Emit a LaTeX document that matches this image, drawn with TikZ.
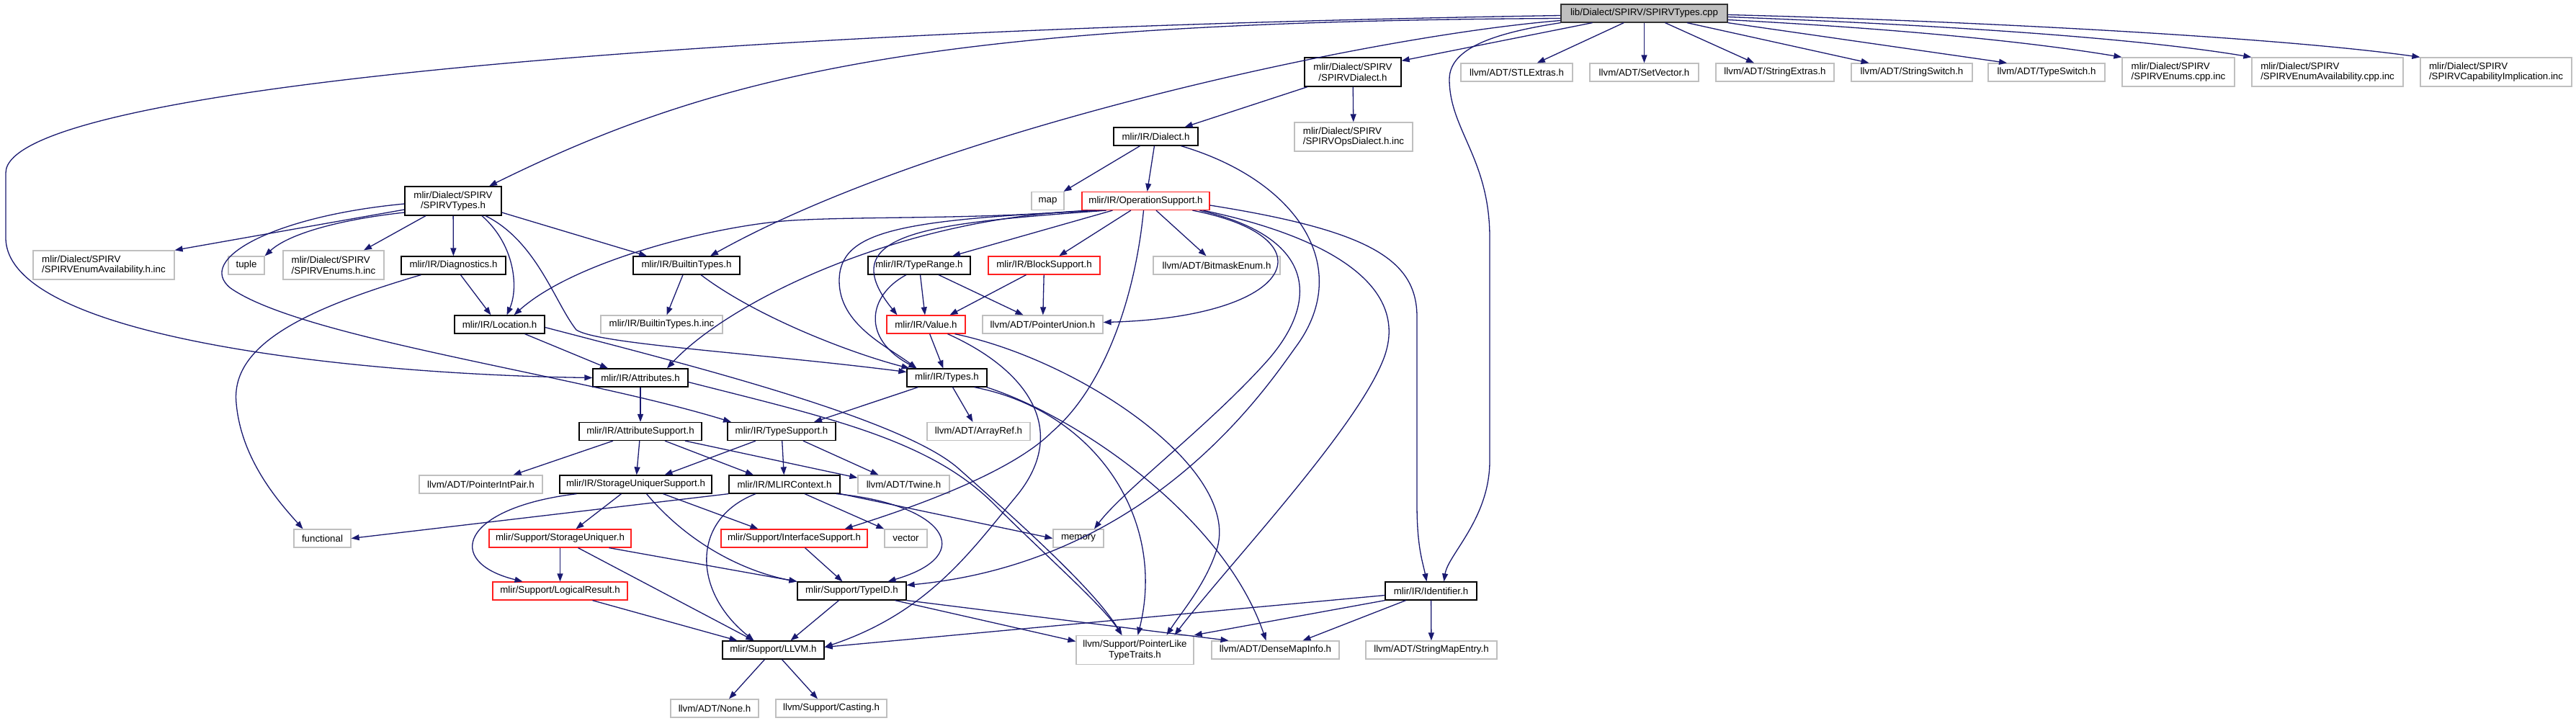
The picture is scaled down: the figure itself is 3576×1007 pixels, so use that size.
\documentclass[tikz,border=0pt]{standalone}
\usepackage{fontspec}
\setmainfont{Liberation Sans}
\usetikzlibrary{arrows.meta}
\definecolor{edgeblue}{HTML}{191970}
\definecolor{extgray}{HTML}{BFBFBF}
\definecolor{rootgray}{HTML}{BFBFBF}
\definecolor{truncred}{HTML}{FF2020}

\begin{document}
\begin{tikzpicture}[
  x=1pt, y=-1pt,
  filebox/.style={rectangle, inner sep=0pt, minimum height=25pt, line width=1.25pt,
                  align=center, font=\fontsize{13.3}{14.5}\selectfont},
  doc/.style={filebox, draw=black, fill=white},
  ext/.style={filebox, draw=extgray, fill=white},
  trunc/.style={filebox, draw=truncred, fill=white},
  rootfile/.style={filebox, draw=black!80, fill=rootgray},
  inc/.style={draw=edgeblue, line width=1.3pt, -{Triangle[length=11pt, width=8pt]}}
]
  \path[fill=white, use as bounding box] (0,0) rectangle (3576,1007);

  % files
  \node[rootfile, minimum width=231pt] (root) at (2282.5,18.5) {lib/Dialect/SPIRV/SPIRVTypes.cpp};
  \node[doc, minimum width=134pt, minimum height=40pt] (spvdialect) at (1878,100) {mlir/Dialect/SPIRV\\/SPIRVDialect.h};
  \node[ext, minimum width=155pt] (stlextras) at (2105.5,100.5) {llvm/ADT/STLExtras.h};
  \node[ext, minimum width=151pt] (setvector) at (2282.5,100.5) {llvm/ADT/SetVector.h};
  \node[ext, minimum width=164pt] (stringextras) at (2464,100.5) {llvm/ADT/StringExtras.h};
  \node[ext, minimum width=168pt] (stringswitch) at (2654,100.5) {llvm/ADT/StringSwitch.h};
  \node[ext, minimum width=162pt] (typeswitch) at (2841,100.5) {llvm/ADT/TypeSwitch.h};
  \node[ext, minimum width=156pt, minimum height=40pt, align=left] (enumscpp) at (3024,100) {mlir/Dialect/SPIRV\\/SPIRVEnums.cpp.inc};
  \node[ext, minimum width=210pt, minimum height=40pt, align=left] (enumavailcpp) at (3231,100) {mlir/Dialect/SPIRV\\/SPIRVEnumAvailability.cpp.inc};
  \node[ext, minimum width=210pt, minimum height=40pt, align=left] (capimpl) at (3465,100) {mlir/Dialect/SPIRV\\/SPIRVCapabilityImplication.inc};
  \node[ext, minimum width=164pt, minimum height=40pt, align=left] (opsdialect) at (1879,190) {mlir/Dialect/SPIRV\\/SPIRVOpsDialect.h.inc};
  \node[doc, minimum width=117pt] (dialect) at (1604.5,189.5) {mlir/IR/Dialect.h};
  \node[doc, minimum width=134pt, minimum height=40pt] (spvtypes) at (629,279) {mlir/Dialect/SPIRV\\/SPIRVTypes.h};
  \node[ext, minimum width=45pt] (map) at (1454.5,279) {map};
  \node[trunc, minimum width=177pt] (opsupport) at (1590.5,279) {mlir/IR/OperationSupport.h};
  \node[ext, minimum width=196pt, minimum height=40pt, align=left] (enumavailh) at (144,368) {mlir/Dialect/SPIRV\\/SPIRVEnumAvailability.h.inc};
  \node[ext, minimum width=50pt] (tuple) at (342,368.5) {tuple};
  \node[ext, minimum width=140pt, minimum height=40pt, align=left] (enumsh) at (463,368) {mlir/Dialect/SPIRV\\/SPIRVEnums.h.inc};
  \node[doc, minimum width=145pt] (diagnostics) at (629.5,368.5) {mlir/IR/Diagnostics.h};
  \node[doc, minimum width=148pt] (builtintypes) at (953,368.5) {mlir/IR/BuiltinTypes.h};
  \node[doc, minimum width=142pt] (typerange) at (1276,368.5) {mlir/IR/TypeRange.h};
  \node[trunc, minimum width=155pt] (blocksupport) at (1449.5,368.5) {mlir/IR/BlockSupport.h};
  \node[ext, minimum width=176pt] (bitmask) at (1689,368.5) {llvm/ADT/BitmaskEnum.h};
  \node[doc, minimum width=125pt] (location) at (693.5,450.5) {mlir/IR/Location.h};
  \node[ext, minimum width=169pt] (builtininc) at (918.5,450.5) {mlir/IR/BuiltinTypes.h.inc};
  \node[trunc, minimum width=109pt] (value) at (1285.5,450.5) {mlir/IR/Value.h};
  \node[ext, minimum width=167pt] (pointerunion) at (1447.5,450.5) {llvm/ADT/PointerUnion.h};
  \node[doc, minimum width=132pt] (attributes) at (889,524.5) {mlir/IR/Attributes.h};
  \node[doc, minimum width=111pt] (types) at (1314.5,524.5) {mlir/IR/Types.h};
  \node[doc, minimum width=170pt] (attrsupport) at (889,599) {mlir/IR/AttributeSupport.h};
  \node[doc, minimum width=150pt] (typesupport) at (1085,599) {mlir/IR/TypeSupport.h};
  \node[ext, minimum width=143pt] (arrayref) at (1358.5,599) {llvm/ADT/ArrayRef.h};
  \node[ext, minimum width=171pt] (pointerintpair) at (667.5,672.5) {llvm/ADT/PointerIntPair.h};
  \node[doc, minimum width=211pt] (storuniqsupport) at (882.5,672.5) {mlir/IR/StorageUniquerSupport.h};
  \node[doc, minimum width=154pt] (mlircontext) at (1089,672.5) {mlir/IR/MLIRContext.h};
  \node[ext, minimum width=127pt] (twine) at (1254.5,672.5) {llvm/ADT/Twine.h};
  \node[ext, minimum width=79pt] (functional) at (447.5,747.5) {functional};
  \node[trunc, minimum width=197pt] (storuniq) at (777.5,747.5) {mlir/Support/StorageUniquer.h};
  \node[trunc, minimum width=203pt] (interfacesupport) at (1102.5,747.5) {mlir/Support/InterfaceSupport.h};
  \node[ext, minimum width=59pt] (vector) at (1257.5,747.5) {vector};
  \node[ext, minimum width=70pt] (memory) at (1497,747.5) {memory};
  \node[trunc, minimum width=187pt] (logicalresult) at (777.5,820.5) {mlir/Support/LogicalResult.h};
  \node[doc, minimum width=151pt] (typeid) at (1182.5,820.5) {mlir/Support/TypeID.h};
  \node[doc, minimum width=127pt] (identifier) at (1986.5,820.5) {mlir/IR/Identifier.h};
  \node[ext, minimum width=163pt, minimum height=40pt] (pointerlike) at (1575.5,902.5) {llvm/Support/PointerLike\\TypeTraits.h};
  \node[ext, minimum width=177pt] (densemapinfo) at (1770.5,902.5) {llvm/ADT/DenseMapInfo.h};
  \node[ext, minimum width=182pt] (stringmapentry) at (1987,902.5) {llvm/ADT/StringMapEntry.h};
  \node[doc, minimum width=141pt] (llvm) at (1073.5,902.5) {mlir/Support/LLVM.h};
  \node[ext, minimum width=122pt] (noneh) at (992,983.5) {llvm/ADT/None.h};
  \node[ext, minimum width=154pt] (casting) at (1154,983.5) {llvm/Support/Casting.h};

  % includes of the .cpp
  \draw[inc] (root) -- (stlextras);
  \draw[inc] (root) -- (setvector);
  \draw[inc] (root) -- (stringextras);
  \draw[inc] (root) -- (stringswitch);
  \draw[inc] (root.south east) -- ([xshift=-55pt]typeswitch.north);
  \draw[inc] ([yshift=-9pt]root.east) .. controls (2600,38) and (2800,55) .. (enumscpp.north west);
  \draw[inc] ([yshift=-5pt]root.east) .. controls (2650,33) and (2950,50) .. (enumavailcpp.north west);
  \draw[inc] ([yshift=-2pt]root.east) .. controls (2700,28) and (3150,50) .. (capimpl.north west);
  \draw[inc] ([xshift=-72pt]root.south) -- ([yshift=-5pt]spvdialect.north east);
  \draw[inc] ([yshift=-3pt]root.west) .. controls (1000,40) and (8,120) .. (8,240) -- (8,330)
    .. controls (8,470) and (500,520) .. (attributes.west);
  \draw[inc] ([yshift=-7pt]root.west) .. controls (1300,30) and (1000,100) .. ([xshift=50pt]spvtypes.north);
  \draw[inc] ([yshift=-10pt]root.west) .. controls (1900,50) and (1300,180) .. ([xshift=33pt]builtintypes.north);
  \draw[inc] (root.south west) .. controls (2080,45) and (2012,65) .. (2012,110)
    .. controls (2012,180) and (2068,220) .. (2068,330) -- (2068,640)
    .. controls (2068,720) and (2010,770) .. ([xshift=18pt]identifier.north);

  % dialect headers
  \draw[inc] (spvdialect) -- (opsdialect);
  \draw[inc] (spvdialect) -- (dialect);
  \draw[inc] (dialect) -- (map);
  \draw[inc] (dialect) -- (opsupport);
  \draw[inc] ([xshift=35pt]dialect.south) .. controls (1800,250) and (1880,370) .. (1800,480)
    .. controls (1760,535) and (1600,780) .. ([yshift=8pt]typeid.east);

  % OperationSupport.h
  \draw[inc] (opsupport) -- (blocksupport);
  \draw[inc] (opsupport) -- (bitmask);
  \draw[inc] (opsupport) -- (typerange);
  \draw[inc] ([xshift=-55pt]opsupport.south) .. controls (1300,310) and (1150,320) .. ([xshift=-40pt]value.north);
  \draw[inc] ([xshift=-60pt]opsupport.south) .. controls (1250,305) and (1165,320) .. (1165,390)
    .. controls (1165,450) and (1230,480) .. ([xshift=-42pt]types.north);
  \draw[inc] ([xshift=-70pt]opsupport.south) .. controls (1250,300) and (1010,420) .. ([xshift=37pt]attributes.north);
  \draw[inc] ([xshift=-80pt]opsupport.south) .. controls (1350,305) and (1200,300) .. (1100,306)
    .. controls (1000,312) and (800,360) .. ([xshift=20pt]location.north);
  \draw[inc] ([xshift=65pt]opsupport.south) .. controls (1850,330) and (1800,440) .. ([yshift=3pt]pointerunion.east);
  \draw[inc] ([xshift=-3pt]opsupport.south) .. controls (1575,420) and (1530,540) .. (1460,600)
    .. controls (1400,660) and (1250,710) .. ([xshift=70pt]interfacesupport.north);
  \draw[inc] ([xshift=75pt]opsupport.south) .. controls (1830,330) and (1830,420) .. (1760,500)
    .. controls (1680,590) and (1560,680) .. ([xshift=22pt]memory.north);
  \draw[inc] ([xshift=80pt]opsupport.south) .. controls (1850,330) and (1960,400) .. (1920,500)
    .. controls (1880,600) and (1700,790) .. ([xshift=55pt]pointerlike.north);
  \draw[inc] ([yshift=-6pt]opsupport.east) .. controls (1900,320) and (1967,360) .. (1967,440) -- (1967,700)
    .. controls (1967,760) and (1975,780) .. ([xshift=-6pt]identifier.north);

  % SPIRVTypes.h
  \draw[inc] ([yshift=-12pt]spvtypes.west) -- (enumavailh.north east);
  \draw[inc] ([yshift=-16pt]spvtypes.west) .. controls (470,305) and (400,325) .. (tuple.north east);
  \draw[inc] ([xshift=-38pt]spvtypes.south) -- ([xshift=42pt]enumsh.north);
  \draw[inc] (spvtypes) -- (diagnostics);
  \draw[inc] ([xshift=40pt]spvtypes.south) .. controls (715,340) and (720,400) .. ([xshift=10pt]location.north);
  \draw[inc] ([xshift=45pt]spvtypes.south) .. controls (745,335) and (770,420) .. (800,458)
    .. controls (830,478) and (1050,490) .. ([yshift=8pt]types.west);
  \draw[inc] ([yshift=-16pt]spvtypes.east) -- ([xshift=-55pt]builtintypes.north);
  \draw[inc] ([yshift=-4pt]spvtypes.west) .. controls (380,300) and (270,360) .. (320,400)
    .. controls (420,470) and (800,520) .. ([xshift=-70pt]typesupport.north);

  \draw[inc] (diagnostics) -- ([xshift=-12pt]location.north);
  \draw[inc] ([xshift=-45pt]diagnostics.south) .. controls (420,430) and (320,480) .. (328,560)
    .. controls (335,640) and (390,700) .. ([xshift=-27pt]functional.north);

  \draw[inc] ([xshift=35pt]location.south) -- ([xshift=-45pt]attributes.north);
  \draw[inc] ([yshift=-4pt]location.east) .. controls (950,505) and (1250,580) .. (1330,650)
    .. controls (1420,730) and (1520,820) .. ([xshift=-18pt]pointerlike.north);

  \draw[inc] (attributes) -- (attrsupport);
  \draw[inc] ([yshift=-6pt]attributes.east) .. controls (1150,580) and (1290,610) .. (1380,700)
    .. controls (1450,770) and (1530,840) .. ([xshift=-18pt]pointerlike.north);

  \draw[inc] ([xshift=-38pt]attrsupport.south) -- ([xshift=45pt]pointerintpair.north);
  \draw[inc] (attrsupport) -- (storuniqsupport);
  \draw[inc] ([xshift=34pt]attrsupport.south) -- ([xshift=-43pt]mlircontext.north);
  \draw[inc] ([xshift=62pt]attrsupport.south) -- ([yshift=-4pt]twine.north west);

  \draw[inc] ([xshift=-36pt]typesupport.south) -- ([xshift=40pt]storuniqsupport.north);
  \draw[inc] (typesupport) -- (mlircontext);
  \draw[inc] ([xshift=30pt]typesupport.south) -- ([xshift=-35pt]twine.north);

  \draw[inc] ([xshift=-40pt]types.south) -- ([xshift=45pt]typesupport.north);
  \draw[inc] ([xshift=8pt]types.south) -- ([xshift=-8pt]arrayref.north);
  \draw[inc] ([xshift=38pt]types.south) .. controls (1520,570) and (1620,720) .. ([xshift=4pt]pointerlike.north);
  \draw[inc] ([xshift=55pt]types.south) .. controls (1500,580) and (1700,720) .. ([xshift=-13pt]densemapinfo.north);

  \draw[inc] (value) -- (types);
  \draw[inc] ([xshift=30pt]value.south) .. controls (1430,515) and (1485,600) .. (1410,690)
    .. controls (1350,762) and (1290,850) .. ([yshift=4pt]llvm.east);
  \draw[inc] ([xshift=40pt]value.south) .. controls (1500,500) and (1720,650) .. (1690,760)
    .. controls (1675,810) and (1640,850) .. ([xshift=44pt]pointerlike.north);

  \draw[inc] ([xshift=-18pt]typerange.south) .. controls (1205,410) and (1195,470) .. ([xshift=-42pt]types.north);
  \draw[inc] (typerange) -- (value);
  \draw[inc] ([xshift=27pt]typerange.south) -- ([xshift=-27pt]pointerunion.north);

  \draw[inc] ([xshift=-25pt]blocksupport.south) -- ([xshift=33pt]value.north);
  \draw[inc] (blocksupport) -- (pointerunion);

  \draw[inc] ([xshift=-5pt]builtintypes.south) -- ([xshift=7pt]builtininc.north);
  \draw[inc] ([xshift=20pt]builtintypes.south) .. controls (1050,440) and (1180,490) .. ([xshift=-52pt]types.north);

  % context and support
  \draw[inc] (mlircontext.south west) -- (functional.east);
  \draw[inc] ([xshift=-40pt]mlircontext.south) .. controls (960,720) and (960,820) .. ([xshift=-27pt]llvm.north);
  \draw[inc] ([xshift=28pt]mlircontext.south) -- (vector.north west);
  \draw[inc] ([xshift=72pt]mlircontext.south) .. controls (1310,700) and (1360,770) .. ([xshift=50pt]typeid.north);
  \draw[inc] (mlircontext.south east) -- (memory.west);

  \draw[inc] ([xshift=-20pt]storuniqsupport.south) -- ([xshift=22pt]storuniq.north);
  \draw[inc] ([xshift=-82pt]storuniqsupport.south) .. controls (640,705) and (615,780) .. ([xshift=-52pt]logicalresult.north);
  \draw[inc] ([xshift=38pt]storuniqsupport.south) -- ([xshift=-50pt]interfacesupport.north);
  \draw[inc] ([xshift=15pt]storuniqsupport.south) .. controls (960,760) and (1040,795) .. (typeid.north west);

  \draw[inc] (storuniq) -- (logicalresult);
  \draw[inc] ([xshift=25pt]storuniq.south) -- ([xshift=-27pt]llvm.north);
  \draw[inc] ([xshift=68pt]storuniq.south) -- (typeid.north west);

  \draw[inc] ([xshift=45pt]logicalresult.south) -- ([xshift=-50pt]llvm.north);
  \draw[inc] ([xshift=15pt]interfacesupport.south) -- ([xshift=-13pt]typeid.north);

  \draw[inc] ([xshift=-18pt]typeid.south) -- ([xshift=24pt]llvm.north);
  \draw[inc] ([xshift=60pt]typeid.south) -- ([yshift=12pt]pointerlike.west);
  \draw[inc] (typeid.south east) -- ([xshift=-65pt]densemapinfo.north);

  \draw[inc] ([yshift=-6pt]identifier.west) -- ([yshift=4pt]llvm.east);
  \draw[inc] (identifier.south west) -- (pointerlike.north east);
  \draw[inc] ([xshift=-35pt]identifier.south) -- ([xshift=38pt]densemapinfo.north);
  \draw[inc] (identifier) -- (stringmapentry);

  \draw[inc] ([xshift=-12pt]llvm.south) -- ([xshift=20pt]noneh.north);
  \draw[inc] ([xshift=12pt]llvm.south) -- ([xshift=-19pt]casting.north);
\end{tikzpicture}
\end{document}
